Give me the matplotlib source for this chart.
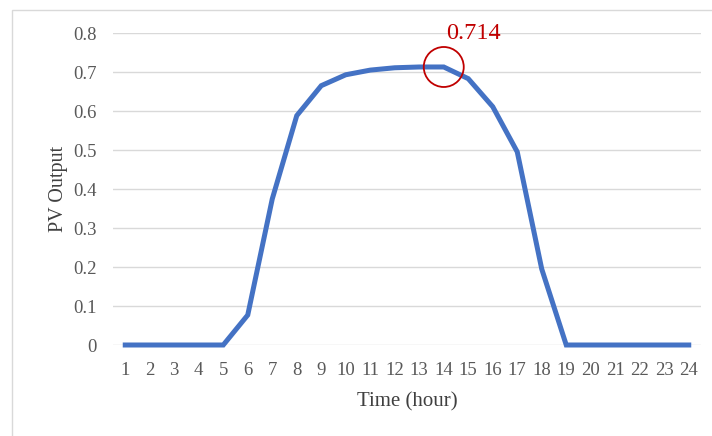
import matplotlib
matplotlib.use("Agg")
import matplotlib.pyplot as plt
from matplotlib.patches import Rectangle, Ellipse

hours = list(range(1, 25))
pv_output = [0, 0, 0, 0, 0, 0.077, 0.375, 0.589, 0.666, 0.694, 0.706, 0.712,
             0.714, 0.714, 0.684, 0.612, 0.496, 0.195, 0, 0, 0, 0, 0, 0]
peak_hour = 14
peak_value = 0.714
y_ticks = [0, 0.1, 0.2, 0.3, 0.4, 0.5, 0.6, 0.7, 0.8]
y_tick_labels = ["0", "0.1", "0.2", "0.3", "0.4", "0.5", "0.6", "0.7", "0.8"]

W, H = 712, 436
fig = plt.figure(figsize=(W / 100, H / 100), dpi=100)
plt.rcParams["font.family"] = ["Liberation Serif", "DejaVu Serif"]

# chart frame
fig.patches.append(Rectangle((12 / W, -0.1), 1.2, 1.1 - 10 / H,
                             transform=fig.transFigure, fill=False,
                             edgecolor="#D9D9D9", linewidth=1.0))

left, right = 113 / W, 701 / W
bottom, top = (H - 345) / H, (H - 33.5) / H
ax = fig.add_axes([left, bottom, right - left, top - bottom])

ax.plot(hours, pv_output, color="#4472C4", linewidth=3.6, clip_on=False,
        solid_joinstyle="miter", zorder=3)

ax.set_xlim(0.5, 24.5)
ax.set_ylim(0, 0.8)
ax.set_yticks(y_ticks)
ax.set_yticklabels(y_tick_labels)
ax.set_xticks(hours)
ax.set_xticklabels([str(h) for h in hours])

for y in y_ticks:
    ax.axhline(y, color="#D9D9D9", linewidth=1.0, zorder=1)

for s in ax.spines.values():
    s.set_visible(False)
ax.tick_params(axis="both", length=0, labelsize=13.5, labelcolor="#595959")
ax.tick_params(axis="y", pad=12)
ax.tick_params(axis="x", pad=12)

ax.set_xlabel("Time (hour)", fontsize=15, color="#404040", labelpad=10)
ax.set_ylabel("PV Output", fontsize=14.5, color="#404040", labelpad=3.5)

# highlight the peak
r_px = 20
ax_w_px = (right - left) * W
ax_h_px = (top - bottom) * H
ew = 2 * r_px / ax_w_px * 24
eh = 2 * r_px / ax_h_px * 0.8
ax.add_patch(Ellipse((peak_hour, peak_value), ew, eh, fill=False,
                     edgecolor="#C00000", linewidth=1.3, zorder=4, clip_on=False))
ax.annotate(f"{peak_value:.3f}", xy=(peak_hour, peak_value), xytext=(1.8, 20.5),
            textcoords="offset points", color="#C00000", fontsize=17.5,
            ha="left", va="baseline", annotation_clip=False)

fig.savefig("out.png", dpi=100)
